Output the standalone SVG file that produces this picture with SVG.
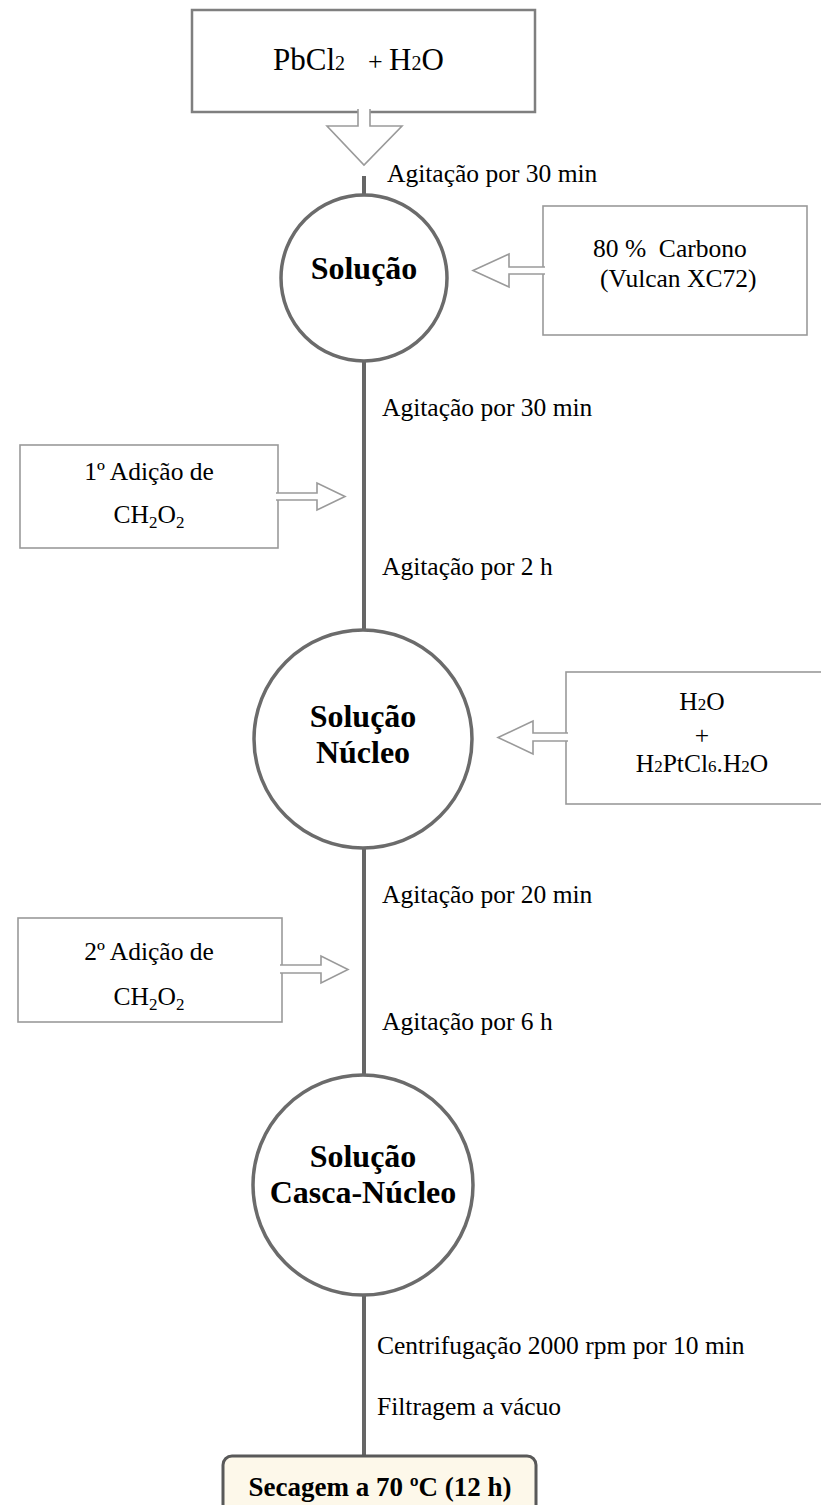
<svg xmlns="http://www.w3.org/2000/svg" width="821" height="1505" viewBox="0 0 821 1505" font-family="'Liberation Serif', 'Times New Roman', 'DejaVu Serif', serif">
<style>
text{font-family:"Liberation Serif","Times New Roman","DejaVu Serif",serif;fill:#000}
.lbl{font-size:25.5px}
.bx{font-size:25.5px;text-anchor:middle}
.circ{fill:#fff;stroke:#6b6b6b;stroke-width:3.5}
.ct{font-size:32px;font-weight:bold;text-anchor:middle}
.box{fill:#fff;stroke:#9a9a9a;stroke-width:1.6}
.arr{fill:#fff;stroke:#9a9a9a;stroke-width:1.6;stroke-linejoin:miter}
.main{stroke:#666;stroke-width:4;fill:none}
.sub{font-size:17px}
</style>
<rect width="821" height="1505" fill="#fff"/>
<g id="connectors">
<line class="main" x1="364" y1="176" x2="364" y2="1458"/>
</g>
<g id="top">
<rect x="192" y="10" width="343" height="102" fill="#fff" stroke="#7f7f7f" stroke-width="2.5"/>
<text x="273" y="70" font-size="31px">PbCl<tspan font-size="20px">2</tspan><tspan x="368" font-size="26px">+</tspan><tspan x="389">H</tspan><tspan font-size="20px">2</tspan>O</text>
<path class="arr" d="M358,109 L358,126 L327,126 L364,165 L402,126 L370,126 L370,109"/>
</g>
<g id="n-solucao">
<circle class="circ" cx="364" cy="278" r="83"/>
<text class="ct" x="364" y="279">Solução</text>
</g>
<g id="n-carbono">
<rect class="box" x="543" y="206" width="264" height="129"/>
<text class="lbl" x="593" y="257" xml:space="preserve">80 %  Carbono</text>
<text class="lbl" x="600" y="287">(Vulcan XC72)</text>
<path class="arr" d="M545,267 L509,267 L509,254 L473,270.5 L509,287 L509,274 L545,274"/>
</g>
<g id="n-adicao1">
<rect class="box" x="20" y="445" width="258" height="103"/>
<text class="bx" x="149" y="480">1º Adição de</text>
<text class="bx" x="149" y="523">CH<tspan class="sub" dy="5">2</tspan><tspan dy="-5">O</tspan><tspan class="sub" dy="5">2</tspan></text>
<path class="arr" d="M276,493 L317,493 L317,483 L345,496.5 L317,510 L317,500 L276,500"/>
</g>
<g id="n-nucleo">
<circle class="circ" cx="363" cy="739" r="109"/>
<text class="ct" x="363" y="727">Solução</text>
<text class="ct" x="363" y="763">Núcleo</text>
</g>
<g id="n-pt">
<rect class="box" x="566" y="672" width="272" height="132"/>
<text class="bx" x="702" y="710">H<tspan font-size="17px">2</tspan>O</text>
<text class="bx" x="702" y="744">+</text>
<text class="bx" x="702" y="772">H<tspan font-size="17px">2</tspan>PtCl<tspan font-size="17px">6</tspan>.H<tspan font-size="17px">2</tspan>O</text>
<path class="arr" d="M568,733 L533,733 L533,721 L498,737.5 L533,754 L533,741 L568,741"/>
</g>
<g id="n-adicao2">
<rect class="box" x="18" y="918" width="264" height="104"/>
<text class="bx" x="149" y="960">2º Adição de</text>
<text class="bx" x="149" y="1005">CH<tspan class="sub" dy="5">2</tspan><tspan dy="-5">O</tspan><tspan class="sub" dy="5">2</tspan></text>
<path class="arr" d="M280,965 L321,965 L321,956 L348,969.5 L321,983 L321,973 L280,973"/>
</g>
<g id="n-casca">
<circle class="circ" cx="363" cy="1185" r="110"/>
<text class="ct" x="363" y="1167">Solução</text>
<text class="ct" x="363" y="1203">Casca-Núcleo</text>
</g>
<g id="labels">
<text class="lbl" x="387" y="182">Agitação por 30 min</text>
<text class="lbl" x="382" y="416">Agitação por 30 min</text>
<text class="lbl" x="382" y="575">Agitação por 2 h</text>
<text class="lbl" x="382" y="903">Agitação por 20 min</text>
<text class="lbl" x="382" y="1030">Agitação por 6 h</text>
<text class="lbl" x="377" y="1354">Centrifugação 2000 rpm por 10 min</text>
<text class="lbl" x="377" y="1415">Filtragem a vácuo</text>
</g>
<g id="n-secagem">
<rect x="223" y="1456" width="313" height="60" rx="9" fill="#fdf8ea" stroke="#595959" stroke-width="3"/>
<text x="380" y="1496" font-size="27px" font-weight="bold" text-anchor="middle">Secagem a 70 ºC (12 h)</text>
</g>
</svg>
